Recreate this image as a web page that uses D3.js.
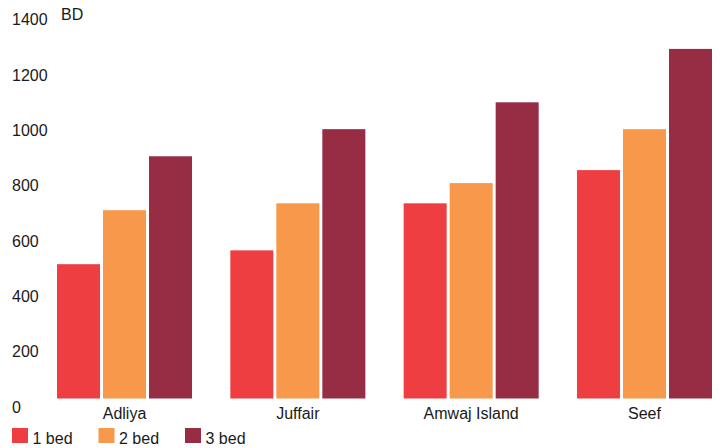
<!DOCTYPE html>
<html>
<head>
<meta charset="utf-8">
<script src="https://cdn.jsdelivr.net/npm/d3@7"></script>
<style>
  html, body { margin: 0; padding: 0; background: #fff; }
  svg { display: block; }
  text { font-family: "Liberation Sans", Arial, Helvetica, sans-serif; fill: #1a1a1a; }
</style>
</head>
<body>
<svg id="chart" width="720" height="448"></svg>
<script>
// Monthly rents (BD) by area and flat size
const areas = ["Adliya", "Juffair", "Amwaj Island", "Seef"];
const sizes = ["1 bed", "2 bed", "3 bed"];
const oneBed = [515, 565, 735, 855];
const twoBed = [710, 735, 808, 1003];
const threeBed = [905, 1003, 1100, 1293];
const yTicks = [0, 200, 400, 600, 800, 1000, 1200, 1400];
const unitLabel = "BD";
const colors = ["#ef3e42", "#f7984a", "#962d44"];

const series = [oneBed, twoBed, threeBed];

const W = 720, H = 448;
const plot = { left: 57, right: 712, top: 19.3, zero: 406.7, floor: 398.5 };

const svg = d3.select("#chart");

const x = d3.scaleBand()
  .domain(areas)
  .range([plot.left, plot.right])
  .paddingInner(0.221)
  .paddingOuter(0);

const xInner = d3.scaleBand()
  .domain(sizes)
  .range([0, x.bandwidth()])
  .paddingInner(0.0652);

const y = d3.scaleLinear()
  .domain([0, 1400])
  .range([plot.zero, plot.top]);

const color = d3.scaleOrdinal().domain(sizes).range(colors);

// bars sit on a floor slightly above the value-axis zero
svg.append("defs").append("clipPath").attr("id", "plotClip")
  .append("rect")
  .attr("x", 0).attr("y", 0)
  .attr("width", W).attr("height", plot.floor);

const rows = areas.map((a, i) => ({
  area: a,
  values: sizes.map((s, j) => ({ size: s, value: series[j][i] }))
}));

const groups = svg.append("g")
  .attr("clip-path", "url(#plotClip)")
  .selectAll("g")
  .data(rows)
  .join("g")
  .attr("transform", d => `translate(${x(d.area)},0)`);

groups.selectAll("rect")
  .data(d => d.values)
  .join("rect")
  .attr("x", d => xInner(d.size))
  .attr("width", xInner.bandwidth())
  .attr("y", d => y(d.value))
  .attr("height", d => y(0) - y(d.value))
  .attr("fill", d => color(d.size));

// value axis: left-aligned labels, no line
const yAxis = d3.axisLeft(y).tickValues(yTicks).tickSize(0).tickFormat(d3.format("d"));
const yg = svg.append("g").attr("transform", "translate(12,0)").call(yAxis);
yg.select(".domain").remove();
yg.selectAll("text")
  .attr("x", 0)
  .attr("dy", null)
  .attr("dominant-baseline", "central")
  .attr("text-anchor", "start")
  .style("font-size", "16px")
  .style("font-family", "'Liberation Sans', Arial, sans-serif")
  .attr("fill", "#1a1a1a");

svg.append("text")
  .attr("x", 61)
  .attr("y", y(1400) - 4.5)
  .attr("dominant-baseline", "central")
  .style("font-size", "16px")
  .text(unitLabel);

// category axis
const xAxis = d3.axisBottom(x).tickSize(0);
const xg = svg.append("g").attr("transform", `translate(0,${plot.floor})`).call(xAxis);
xg.select(".domain").remove();
xg.selectAll("text")
  .attr("dy", null)
  .attr("y", 14.5)
  .attr("dominant-baseline", "central")
  .style("font-size", "16px")
  .style("font-family", "'Liberation Sans', Arial, sans-serif")
  .attr("fill", "#1a1a1a");

// legend
const legend = svg.append("g").attr("transform", "translate(12,428)");
const item = legend.selectAll("g")
  .data(sizes)
  .join("g")
  .attr("transform", (d, i) => `translate(${i * 86.5},0)`);
item.append("rect")
  .attr("width", 16).attr("height", 15)
  .attr("fill", d => color(d));
item.append("text")
  .attr("x", 20.5)
  .attr("y", 10)
  .attr("dominant-baseline", "central")
  .style("font-size", "16px")
  .text(d => d);
</script>
</body>
</html>
